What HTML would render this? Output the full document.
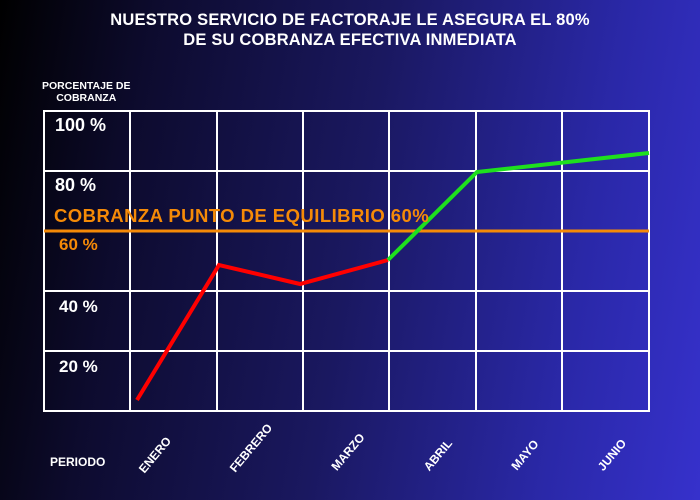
<!DOCTYPE html>
<html><head><style>
body{margin:0;}
.c{position:relative;width:700px;height:500px;overflow:hidden;background:linear-gradient(100deg,#000 0%,#0d0b2e 20%,#1a1860 50%,#2a28a8 80%,#3631cc 100%);font-family:"Liberation Sans",sans-serif;color:#fff;}
.t{position:absolute;left:0;width:700px;top:10px;text-align:center;font-weight:bold;font-size:16.5px;line-height:20px;letter-spacing:0.2px;}
.a{position:absolute;font-weight:bold;}
.m{position:absolute;font-weight:bold;font-size:12px;transform:translate(-50%,-50%) rotate(-50deg);white-space:nowrap;}
</style></head><body><div class="c">
<div class="t">NUESTRO SERVICIO DE FACTORAJE LE ASEGURA EL 80%<br>DE SU COBRANZA EFECTIVA INMEDIATA</div>
<div class="a" style="left:42px;top:80px;font-size:10.5px;line-height:12px;text-align:center">PORCENTAJE DE<br>COBRANZA</div>
<svg width="700" height="500" style="position:absolute;left:0;top:0">
<g stroke="#fff" stroke-width="2" fill="none">
<rect x="44" y="111" width="605" height="300"/>
<line x1="130" y1="111" x2="130" y2="411"/><line x1="217" y1="111" x2="217" y2="411"/>
<line x1="303" y1="111" x2="303" y2="411"/><line x1="389" y1="111" x2="389" y2="411"/>
<line x1="476" y1="111" x2="476" y2="411"/><line x1="562" y1="111" x2="562" y2="411"/>
<line x1="44" y1="171" x2="649" y2="171"/><line x1="44" y1="291" x2="649" y2="291"/><line x1="44" y1="351" x2="649" y2="351"/>
</g>
<line x1="44" y1="231" x2="649" y2="231" stroke="#f58a07" stroke-width="3"/>
<polyline points="137,400 219,265 300,284 388,260" stroke="#f00" stroke-width="4" fill="none"/>
<polyline points="388,260 477,172 649,153" stroke="#1ee01e" stroke-width="4" fill="none"/>
</svg>
<div class="a" style="left:55px;top:115px;font-size:18px">100 %</div>
<div class="a" style="left:55px;top:175px;font-size:18px">80 %</div>
<div class="a" style="left:59px;top:235px;font-size:17px;color:#f58a07">60 %</div>
<div class="a" style="left:59px;top:297px;font-size:17px">40 %</div>
<div class="a" style="left:59px;top:357px;font-size:17px">20 %</div>
<div class="a" style="left:54px;top:205px;font-size:18.5px;color:#f58a07;letter-spacing:0.45px">COBRANZA PUNTO DE EQUILIBRIO 60%</div>
<div class="a" style="left:50px;top:455px;font-size:12px">PERIODO</div>
<div class="m" style="left:155px;top:455px">ENERO</div>
<div class="m" style="left:251px;top:448px">FEBRERO</div>
<div class="m" style="left:348px;top:452px">MARZO</div>
<div class="m" style="left:438px;top:455px">ABRIL</div>
<div class="m" style="left:525px;top:455px">MAYO</div>
<div class="m" style="left:612px;top:455px">JUNIO</div>
</div></body></html>
